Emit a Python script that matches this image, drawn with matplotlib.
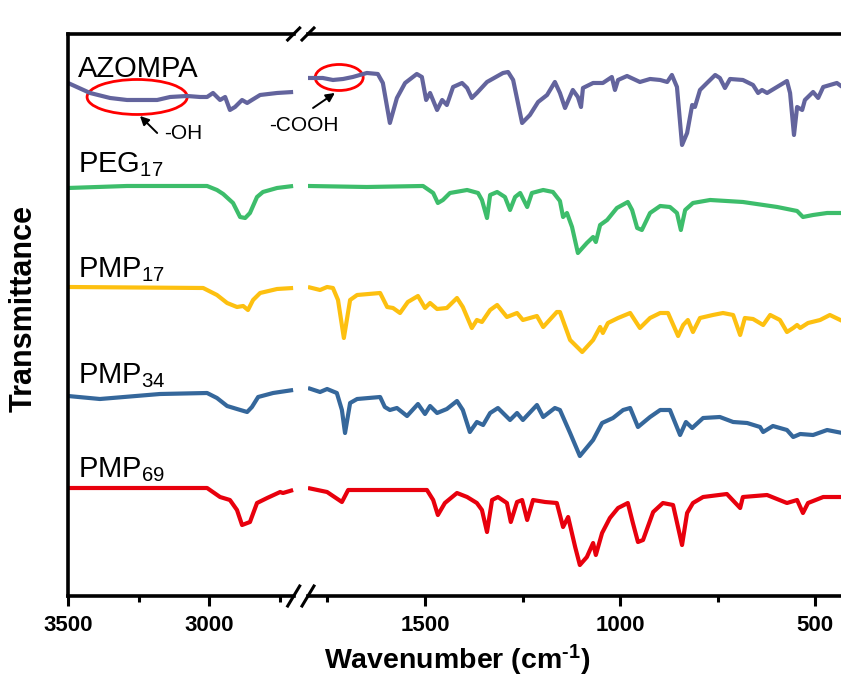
import matplotlib.pyplot as plt
from matplotlib.patches import Ellipse

plt.rcParams['font.family'] = ['Liberation Sans', 'DejaVu Sans']
plt.rcParams['mathtext.fontset'] = 'custom'
plt.rcParams['mathtext.rm'] = 'Liberation Sans'
plt.rcParams['mathtext.it'] = 'Liberation Sans:italic'
plt.rcParams['mathtext.bf'] = 'Liberation Sans:bold'
plt.rcParams['mathtext.default'] = 'regular'

# FTIR spectra, stacked (arbitrary transmittance units incl. offset)
# hi = 3500-2700 cm-1 window, lo = 1800-430 cm-1 window

azompa_hi_wn = [3500, 3422, 3351, 3291, 3184, 3138, 3078, 3032, 3007, 2986, 2961, 2943, 2926, 2908, 2883, 2865, 2848, 2819, 2759, 2702]
azompa_hi_t = [5.13, 5.03, 4.98, 4.96, 4.96, 4.99, 5.00, 4.99, 4.99, 5.03, 4.96, 4.99, 4.86, 4.89, 4.96, 4.93, 4.96, 5.01, 5.03, 5.04]
azompa_lo_wn = [1800, 1762, 1736, 1710, 1685, 1649, 1621, 1608, 1590, 1572, 1551, 1521, 1508, 1497, 1487, 1469, 1456, 1444, 1428, 1405,
                1392, 1380, 1367, 1341, 1300, 1287, 1274, 1251, 1231, 1210, 1187, 1167, 1154, 1141, 1121, 1108, 1100, 1095, 1069, 1044,
                1021, 1013, 1005, 982, 949, 923, 897, 879, 867, 854, 841, 828, 815, 808, 795, 777, 756, 744, 731, 718,
                685, 659, 646, 636, 623, 572, 564, 554, 546, 533, 526, 505, 492, 479, 444, 430]
azompa_lo_t = [5.18, 5.18, 5.16, 5.17, 5.19, 5.23, 5.22, 5.13, 4.73, 4.98, 5.13, 5.22, 5.19, 4.96, 5.03, 4.86, 4.96, 4.91, 5.09, 5.13,
               5.08, 4.98, 5.03, 5.14, 5.23, 5.24, 5.16, 4.73, 4.81, 4.94, 5.01, 5.14, 5.03, 4.88, 5.06, 4.99, 4.89, 5.08, 5.13, 5.13,
               5.19, 5.06, 5.16, 5.20, 5.14, 5.17, 5.16, 5.14, 5.21, 5.09, 4.51, 4.63, 4.91, 4.89, 5.06, 5.13, 5.21, 5.18, 5.08, 5.17,
               5.16, 5.11, 5.03, 5.06, 5.03, 5.15, 5.03, 4.61, 4.89, 4.86, 4.96, 5.04, 4.98, 5.09, 5.13, 5.09]

peg_hi_wn = [3500, 3291, 3007, 2972, 2950, 2915, 2890, 2872, 2855, 2830, 2809, 2759, 2702]
peg_hi_t = [4.08, 4.10, 4.10, 4.06, 4.02, 3.93, 3.79, 3.78, 3.83, 3.99, 4.04, 4.08, 4.10]
peg_lo_wn = [1800, 1649, 1505, 1479, 1467, 1454, 1436, 1392, 1364, 1354, 1341, 1333, 1315, 1295, 1282, 1269, 1256, 1238, 1226, 1197,
             1172, 1154, 1146, 1136, 1123, 1108, 1085, 1069, 1062, 1051, 1033, 1008, 980, 969, 956, 944, 923, 897, 872, 854,
             844, 833, 813, 769, 685, 597, 546, 531, 505, 469, 430]
peg_lo_t = [4.10, 4.09, 4.10, 4.03, 3.93, 3.96, 4.03, 4.06, 4.03, 3.96, 3.78, 4.01, 4.04, 3.99, 3.86, 3.99, 4.03, 3.89, 4.03, 4.06,
            4.04, 3.95, 3.79, 3.83, 3.69, 3.43, 3.53, 3.59, 3.54, 3.71, 3.76, 3.88, 3.94, 3.86, 3.68, 3.66, 3.83, 3.90, 3.89, 3.83,
            3.66, 3.86, 3.93, 3.96, 3.94, 3.89, 3.85, 3.79, 3.81, 3.83, 3.83]

pmp17_hi_wn = [3500, 3021, 2972, 2936, 2901, 2879, 2862, 2844, 2819, 2759, 2702]
pmp17_hi_t = [3.09, 3.08, 3.01, 2.93, 2.89, 2.90, 2.86, 2.96, 3.03, 3.07, 3.08]
pmp17_lo_wn = [1800, 1769, 1751, 1736, 1723, 1708, 1692, 1674, 1615, 1597, 1582, 1564, 1544, 1518, 1500, 1487, 1469, 1444, 1418, 1403,
               1380, 1367, 1354, 1333, 1315, 1290, 1264, 1249, 1213, 1197, 1162, 1154, 1128, 1097, 1069, 1051, 1044, 1031, 1005, 974,
               949, 923, 897, 877, 851, 838, 826, 813, 795, 762, 736, 710, 692, 680, 659, 633, 615, 590, 572, 556,
               546, 538, 518, 487, 462, 430]
pmp17_lo_t = [3.09, 3.06, 3.09, 3.08, 2.96, 2.58, 2.96, 3.01, 3.03, 2.89, 2.88, 2.83, 2.94, 3.00, 2.88, 2.93, 2.87, 2.88, 2.98, 2.89,
              2.68, 2.76, 2.74, 2.86, 2.91, 2.79, 2.83, 2.76, 2.80, 2.69, 2.84, 2.84, 2.56, 2.44, 2.56, 2.69, 2.63, 2.73, 2.78, 2.83,
              2.68, 2.78, 2.83, 2.83, 2.60, 2.71, 2.76, 2.64, 2.78, 2.81, 2.83, 2.81, 2.61, 2.78, 2.77, 2.71, 2.81, 2.76, 2.64, 2.68,
              2.71, 2.68, 2.73, 2.76, 2.81, 2.75]

pmp34_hi_wn = [3500, 3387, 3174, 3007, 2972, 2936, 2901, 2865, 2848, 2826, 2773, 2702]
pmp34_hi_t = [2.00, 1.97, 2.02, 2.03, 1.98, 1.90, 1.87, 1.84, 1.89, 1.99, 2.03, 2.06]
pmp34_lo_wn = [1800, 1769, 1751, 1726, 1713, 1705, 1692, 1674, 1615, 1603, 1590, 1572, 1546, 1518, 1500, 1487, 1469, 1444, 1418, 1403,
               1385, 1367, 1351, 1333, 1313, 1282, 1264, 1249, 1213, 1197, 1167, 1154, 1128, 1103, 1069, 1046, 1018, 992, 974, 954,
               923, 897, 872, 846, 831, 815, 787, 744, 710, 674, 641, 633, 608, 572, 556, 538, 505, 469, 430]
pmp34_lo_t = [2.08, 2.04, 2.07, 2.03, 1.86, 1.63, 1.93, 1.97, 1.99, 1.89, 1.86, 1.88, 1.80, 1.92, 1.82, 1.90, 1.83, 1.87, 1.95, 1.86,
              1.64, 1.74, 1.71, 1.83, 1.88, 1.76, 1.83, 1.76, 1.91, 1.79, 1.88, 1.86, 1.63, 1.40, 1.56, 1.73, 1.78, 1.86, 1.88, 1.69,
              1.79, 1.86, 1.86, 1.61, 1.74, 1.68, 1.78, 1.79, 1.74, 1.73, 1.69, 1.64, 1.70, 1.66, 1.59, 1.62, 1.61, 1.66, 1.63]

pmp69_hi_wn = [3500, 3007, 2961, 2926, 2901, 2883, 2855, 2830, 2794, 2748, 2738, 2702]
pmp69_hi_t = [1.08, 1.08, 0.99, 0.96, 0.86, 0.71, 0.74, 0.93, 0.98, 1.04, 1.03, 1.06]
pmp69_lo_wn = [1800, 1751, 1713, 1697, 1590, 1495, 1479, 1467, 1449, 1418, 1392, 1367, 1354, 1341, 1328, 1313, 1290, 1280, 1264, 1251,
               1238, 1223, 1192, 1162, 1146, 1133, 1115, 1103, 1085, 1069, 1062, 1046, 1026, 1005, 980, 967, 954, 941, 915, 890,
               864, 841, 828, 813, 787, 726, 692, 685, 623, 572, 546, 531, 518, 479, 430]
pmp69_lo_t = [1.08, 1.04, 0.94, 1.06, 1.06, 1.06, 0.96, 0.81, 0.93, 1.03, 0.99, 0.93, 0.86, 0.64, 0.96, 0.99, 0.93, 0.74, 0.94, 0.96,
              0.76, 0.96, 0.94, 0.93, 0.69, 0.79, 0.49, 0.31, 0.39, 0.53, 0.41, 0.63, 0.78, 0.88, 0.93, 0.73, 0.54, 0.56, 0.84, 0.93,
              0.91, 0.51, 0.83, 0.93, 0.99, 1.02, 0.88, 0.99, 1.01, 0.93, 0.96, 0.83, 0.93, 0.99, 0.99]

names = ['AZOMPA', 'PEG$_{17}$', 'PMP$_{17}$', 'PMP$_{34}$', 'PMP$_{69}$']
colors = ['#63649d', '#3dbd6b', '#fdc010', '#35679b', '#e8000d']
label_y = [5.19, 4.24, 3.19, 2.13, 1.19]

spectra = [(azompa_hi_wn, azompa_hi_t, azompa_lo_wn, azompa_lo_t),
           (peg_hi_wn, peg_hi_t, peg_lo_wn, peg_lo_t),
           (pmp17_hi_wn, pmp17_hi_t, pmp17_lo_wn, pmp17_lo_t),
           (pmp34_hi_wn, pmp34_hi_t, pmp34_lo_wn, pmp34_lo_t),
           (pmp69_hi_wn, pmp69_hi_t, pmp69_lo_wn, pmp69_lo_t)]

fig = plt.figure(figsize=(8.41, 6.81), dpi=100)
ax_hi = fig.add_axes([0.0809, 0.1248, 0.2683, 0.8253])
ax_lo = fig.add_axes([0.3662, 0.1248, 0.6354, 0.8253])

for (hw, ht, lw_, lt), c in zip(spectra, colors):
    ax_hi.plot(hw, ht, color=c, lw=3.0, solid_joinstyle='round', solid_capstyle='butt')
    ax_lo.plot(lw_, lt, color=c, lw=3.0, solid_joinstyle='round', solid_capstyle='butt')

ax_hi.set_xlim(3500, 2700)
ax_hi.set_xticks([3500, 3000])
ax_hi.set_xticks([3250, 2750], minor=True)
ax_lo.set_xlim(1800, 430)
ax_lo.set_xticks([1500, 1000, 500])
ax_lo.set_xticks([1750, 1250, 750], minor=True)

for ax in (ax_hi, ax_lo):
    ax.set_ylim(0, 5.62)
    ax.set_yticks([])
    ax.tick_params(axis='x', which='major', direction='out', length=7, width=2.2, labelsize=16, pad=7)
    ax.tick_params(axis='x', which='minor', direction='out', length=4, width=2.2)
    for sp in ax.spines.values():
        sp.set_linewidth(2.6)
    for lab in ax.get_xticklabels():
        lab.set_fontweight('bold')
ax_hi.spines['right'].set_visible(False)
ax_lo.spines['left'].set_visible(False)
ax_lo.spines['right'].set_visible(False)

# axis break marks "//"
def break_marks(ax, x_end, dx, dy_bot, dy_top):
    ax.plot([x_end - dx, x_end + dx], [-dy_bot, dy_bot], transform=ax.transAxes,
            color='k', lw=2.2, clip_on=False)
    ax.plot([x_end - dx, x_end + dx], [1 - dy_top, 1 + dy_top], transform=ax.transAxes,
            color='k', lw=2.2, clip_on=False)

break_marks(ax_hi, 1.0, 0.0266, 0.0178, 0.0107)
break_marks(ax_lo, 0.0, 0.0112, 0.0178, 0.0107)

for name, ly in zip(names, label_y):
    ax_hi.text(3466, ly, name, fontsize=21, va='baseline', ha='left')

# functional group markers
ax_hi.add_patch(Ellipse((3255, 4.99), 355, 0.35, fill=False, ec='#ff0000', lw=2.0))
ax_hi.annotate('', xy=(3245, 4.80), xytext=(3184, 4.63),
               arrowprops=dict(arrowstyle='-|>', color='k', lw=1.4, mutation_scale=13, shrinkA=0, shrinkB=0))
ax_hi.text(3092, 4.62, '-OH', fontsize=15, ha='center', va='center')

ax_lo.add_patch(Ellipse((1720, 5.185), 123, 0.26, fill=False, ec='#ff0000', lw=2.0))
ax_lo.annotate('', xy=(1731, 5.03), xytext=(1787, 4.88),
               arrowprops=dict(arrowstyle='-|>', color='k', lw=1.4, mutation_scale=13, shrinkA=0, shrinkB=0))
ax_lo.text(1810, 4.70, '-COOH', fontsize=15, ha='center', va='center')

# superscript uses a plain hyphen rather than the wide math minus
fig.text(0.5434, 0.0176, 'Wavenumber (cm$^{\\mathbf{\u2010}\\mathbf{1}}$)', fontsize=20.5, fontweight='bold',
         ha='center', va='baseline')
fig.text(0.0285, 0.547, 'Transmittance', rotation=90, fontsize=22, fontweight='bold',
         ha='center', va='center')

fig.savefig('out.png', dpi=100)
